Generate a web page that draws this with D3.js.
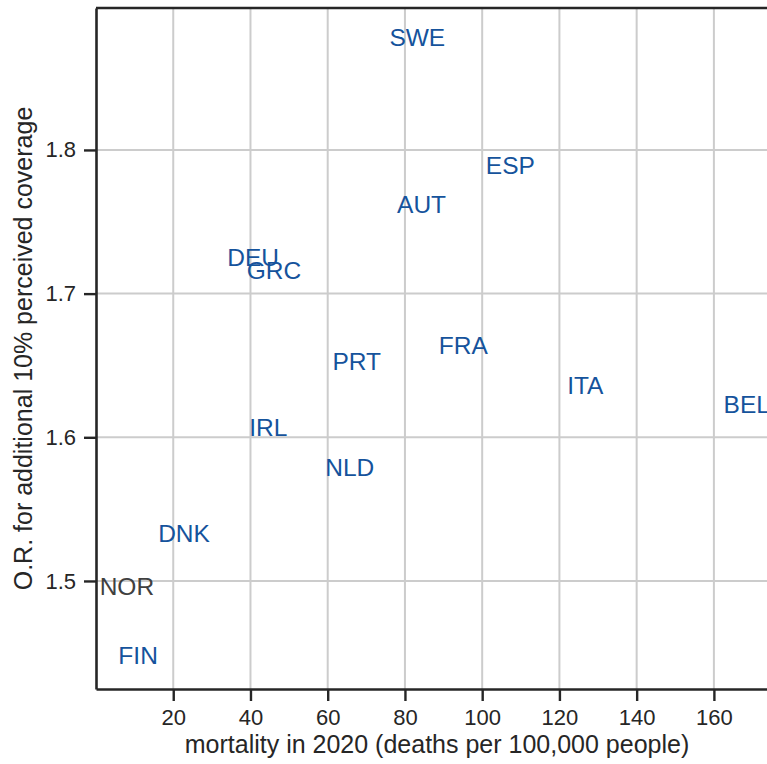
<!DOCTYPE html>
<html>
<head>
<meta charset="utf-8">
<script src="https://cdn.jsdelivr.net/npm/d3@7"></script>
<style>
  body { margin: 0; background: #fff; }
  svg { font-family: "Liberation Sans", Arial, sans-serif; }
</style>
</head>
<body>
<svg id="chart" width="767" height="764"></svg>
<script>
// country codes, mortality 2020 and odds ratio
const countries = ["SWE", "ESP", "AUT", "DEU", "GRC", "PRT", "FRA", "ITA", "BEL", "IRL", "NLD", "DNK", "NOR", "FIN"];
const mortality = [83.2, 107.3, 84.3, 40.7, 46.1, 67.5, 95.1, 126.7, 168.5, 44.6, 65.7, 22.8, 8.0, 10.9];
const oddsRatio = [1.8785, 1.789, 1.762, 1.725, 1.716, 1.653, 1.664, 1.636, 1.623, 1.607, 1.579, 1.533, 1.4958, 1.448];
const xTicks = [20, 40, 60, 80, 100, 120, 140, 160];
const yTicks = [1.5, 1.6, 1.7, 1.8];

const svg = d3.select("#chart");
const plotLeft = 96, plotRight = 778, plotTop = 8, plotBottom = 689;
const ink = "#262626";

const x = d3.scaleLinear().domain([0, 176.6]).range([plotLeft, plotRight]);
const y = d3.scaleLinear().domain([1.4248, 1.8988]).range([plotBottom, plotTop]);

// grid
svg.append("g").selectAll("line").data(xTicks).join("line")
  .attr("x1", d => x(d)).attr("x2", d => x(d))
  .attr("y1", plotTop).attr("y2", plotBottom)
  .attr("stroke", "#cccccc").attr("stroke-width", 2);
svg.append("g").selectAll("line").data(yTicks).join("line")
  .attr("x1", plotLeft).attr("x2", plotRight)
  .attr("y1", d => y(d)).attr("y2", d => y(d))
  .attr("stroke", "#cccccc").attr("stroke-width", 2);

// axes
const xAxis = svg.append("g")
  .attr("transform", `translate(0,${plotBottom})`)
  .call(d3.axisBottom(x).tickValues(xTicks).tickSize(12).tickPadding(8).tickSizeOuter(0));
const yAxis = svg.append("g")
  .attr("transform", `translate(${plotLeft},0)`)
  .call(d3.axisLeft(y).tickValues(yTicks).tickFormat(d3.format(".1f")).tickSize(12).tickPadding(8).tickSizeOuter(0));

[xAxis, yAxis].forEach(g => {
  g.select(".domain").attr("stroke", ink).attr("stroke-width", 2.6);
  g.selectAll(".tick line").attr("stroke", ink).attr("stroke-width", 2.4);
  g.selectAll(".tick text").attr("fill", ink)
    .style("font-size", "22px").style("font-family", "Liberation Sans, Arial, sans-serif");
});

// top spine
svg.append("line")
  .attr("x1", plotLeft).attr("x2", plotRight).attr("y1", plotTop).attr("y2", plotTop)
  .attr("stroke", ink).attr("stroke-width", 2.6);

// labels
svg.append("g").selectAll("text").data(countries).join("text")
  .attr("x", (d, i) => x(mortality[i]))
  .attr("y", (d, i) => y(oddsRatio[i]))
  .attr("text-anchor", "middle")
  .attr("dominant-baseline", "central")
  .attr("fill", d => d === "NOR" ? "#404040" : "#15539c")
  .style("font-size", "24.5px")
  .text(d => d);

// axis titles
svg.append("text")
  .attr("x", (plotLeft + plotRight) / 2).attr("y", 753)
  .attr("text-anchor", "middle")
  .attr("fill", ink)
  .style("font-size", "25px")
  .text("mortality in 2020 (deaths per 100,000 people)");

svg.append("text")
  .attr("transform", `translate(32,${(plotTop + plotBottom) / 2}) rotate(-90)`)
  .attr("text-anchor", "middle")
  .attr("fill", ink)
  .style("font-size", "25px")
  .text("O.R. for additional 10% perceived coverage");
</script>
</body>
</html>
